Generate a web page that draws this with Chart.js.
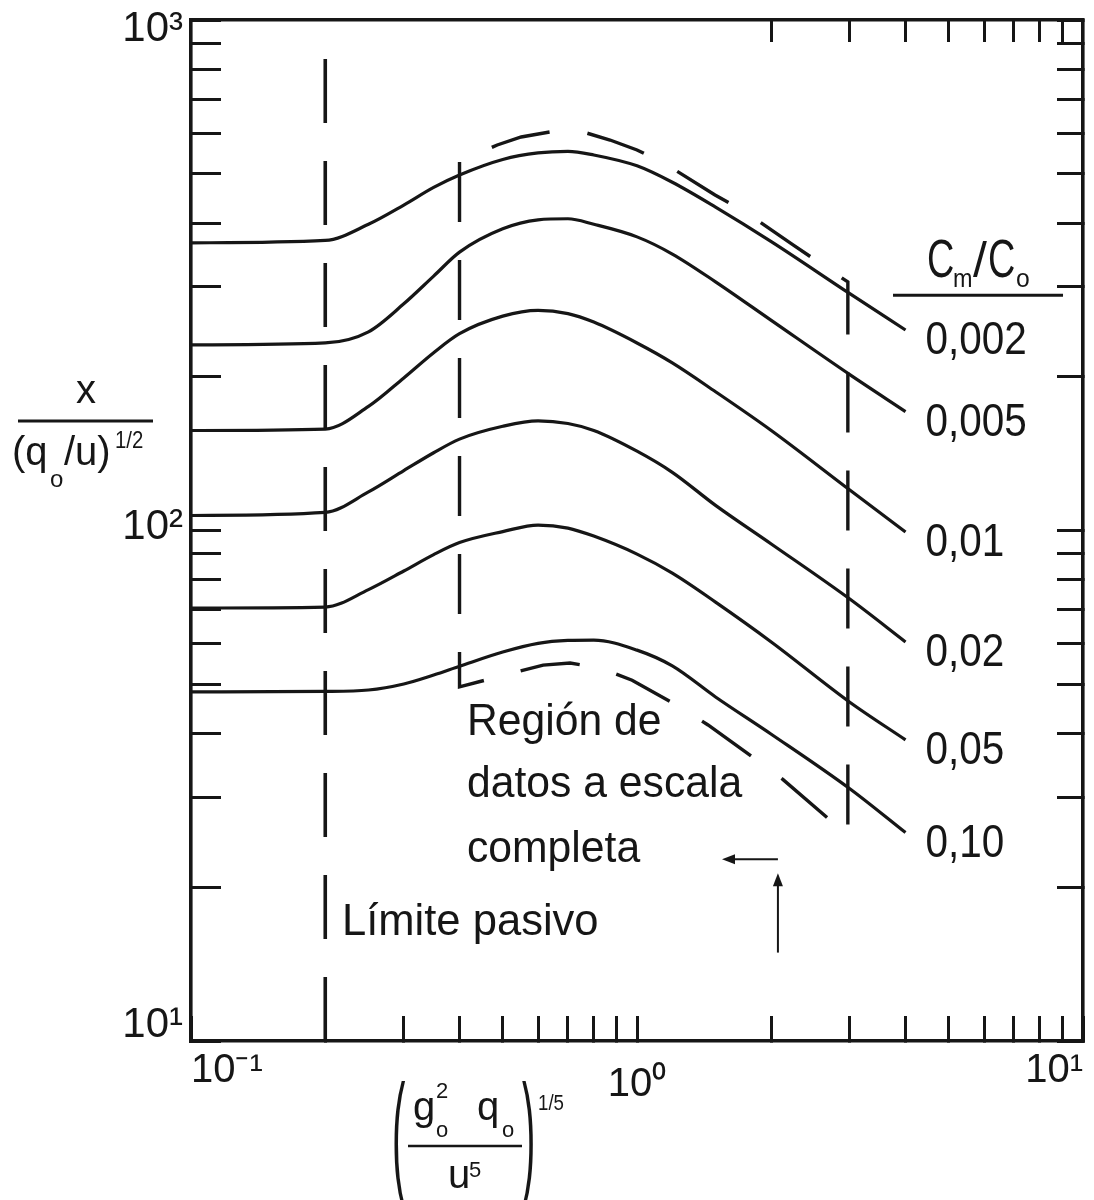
<!DOCTYPE html>
<html><head><meta charset="utf-8">
<script src="https://cdn.jsdelivr.net/npm/chart.js@4.4.0/dist/chart.umd.min.js"></script>
<style>html,body{margin:0;padding:0;background:#fff}#wrap{width:1094px;height:1200px}</style>
</head><body><div id="wrap"><canvas id="c" width="1094" height="1200"></canvas></div>
<script>
// ---- data ----
const xSamples = [0.1, 0.2, 0.25, 0.3, 0.35, 0.4, 0.5, 0.6, 0.7, 0.8, 1.0, 1.2, 1.5, 2.0, 3.0, 4.0];
const seriesLabels = ['0,002', '0,005', '0,01', '0,02', '0,05', '0,10'];
const s0002 = [366, 370, 398, 434, 470, 497, 533, 549, 553, 544, 518, 481, 430, 368, 291, 247];
const s0005 = [231, 233, 245, 278, 315, 351, 390, 406, 408, 398, 376, 348, 307, 258, 202, 171];
const s001  = [157, 158, 175, 199, 223, 243, 263, 270, 266, 256, 233, 213, 187, 157, 120, 99.3];
const s002  = [107, 108.5, 119, 131, 142, 151, 160, 164, 162, 157, 143, 130, 112, 94.1, 73.4, 60.5];
const s005  = [70.5, 70.8, 76.6, 83.3, 89.7, 94.7, 99.5, 102.5, 101.1, 97.5, 89.9, 82.5, 72.4, 60.5, 46.1, 38.9];
const s010  = [48.3, 48.4, 48.7, 50.05, 52.1, 54.2, 57.8, 60.1, 60.9, 61.0, 58.3, 54.3, 47.2, 39.9, 31.2, 25.6];
const seriesValues = [s0002, s0005, s001, s002, s005, s010];

// "Límite pasivo" line
const pasivoX = [0.2, 0.2];
const pasivoY = [10, 846];
// "Región de datos a escala completa" boundary
const regionX = [0.4, 0.4, 0.527, 0.616, 0.708, 0.826, 0.975, 1.249, 1.443, 1.858, 2.126, 2.708, 2.97, 2.97, 2.238, 1.764, 1.496, 1.168, 1.0, 0.87, 0.757, 0.638, 0.55, 0.486, 0.4];
const regionY = [527, 49.4, 52.6, 54.5, 55.0, 53.8, 50.9, 45.1, 41.6, 35.5, 32.5, 27.1, 25.3, 306.8, 362.6, 418.8, 454.2, 520, 556.5, 582, 603.5, 603.5, 590, 569.1, 527];

// ticks
const xTicksBottom = [0.1,0.2,0.3,0.4,0.5,0.6,0.7,0.8,0.9,1,2,3,4,5,6,7,8,9,10];
const xTicksTop = [2,3,4,5,6,7,8,9];
const yTicksAll = [10,20,30,40,50,60,70,80,90,100,200,300,400,500,600,700,800,900,1000];
const xDecades = [0.1, 1, 10];
const xDecadeLabels = [['10\u207B\u00B9'], ['', '10\u2070'], ['10\u00B9']];
const yDecades = [10, 100, 1000];
const yDecadeLabels = [['10\u00B9', ''], ['10\u00B2'], ['', '10\u00B3']];

// annotation anchors (data coordinates)
const headerAt = {x: 4.47, y: 313.7};
const headerRule = {x1: 3.75, x2: 9.02, y: 289};
const regionText = ['Regi\u00F3n de', 'datos a escala', 'completa'];
const regionTextX = 0.4157;
const regionTextY = [39.8, 30.1, 22.4];
const pasivoText = 'L\u00EDmite pasivo';
const pasivoTextAt = {x: 0.218, y: 16.1};
const arrowH = {x1: 2.07, x2: 1.551, y: 22.7};
const arrowV = {x: 2.07, y1: 14.9, y2: 21.3};

// ---- styling ----
const INK = '#161616';
const FONT = '"Liberation Sans", Arial, Helvetica, sans-serif';

function decadeLabel(v, decs, labs) {
  const i = decs.findIndex(d => Math.abs(Math.log10(d) - Math.log10(v)) < 1e-6);
  return i >= 0 ? labs[i] : '';
}

const datasets = seriesValues.map((vals, i) => ({
  label: seriesLabels[i],
  data: xSamples.map((x, k) => ({x, y: vals[k]})),
  borderColor: INK, borderWidth: 3.2, pointRadius: 0,
  cubicInterpolationMode: 'monotone', fill: false
}));
datasets.push({
  label: 'pasivo',
  data: pasivoX.map((x, k) => ({x, y: pasivoY[k]})),
  borderColor: INK, borderWidth: 3.6, pointRadius: 0, borderDash: [64, 38], tension: 0
});
datasets.push({
  label: 'region',
  data: regionX.map((x, k) => ({x, y: regionY[k]})),
  borderColor: INK, borderWidth: 3.4, pointRadius: 0, borderDash: [60, 38], tension: 0
});

const gridBase = (len) => ({display: true, drawOnChartArea: false, drawTicks: true, tickLength: len, tickWidth: 3, tickColor: INK, color: INK});
const borderBase = {display: true, width: 3.6, color: INK};
function fixSize(prop, val) {
  return s => { s[prop] = val; s.paddingTop = 0; s.paddingBottom = 0; s.paddingLeft = 0; s.paddingRight = 0; };
}

const annot = {
  id: 'annot',
  afterDatasetsDraw(chart) {
    const {ctx, chartArea: a, scales} = chart;
    const X = v => scales.x.getPixelForValue(v), Y = v => scales.y.getPixelForValue(v);
    ctx.save();
    ctx.fillStyle = INK; ctx.strokeStyle = INK;
    function txt(s, px, py, size, sx = 1, align = 'left') {
      ctx.save();
      ctx.font = size + 'px ' + FONT;
      ctx.textAlign = align; ctx.textBaseline = 'alphabetic';
      ctx.translate(px, py); ctx.scale(sx, 1);
      ctx.fillText(s, 0, 0);
      ctx.restore();
    }
    function line(x1, y1, x2, y2, w) {
      ctx.beginPath(); ctx.lineWidth = w; ctx.moveTo(x1, y1); ctx.lineTo(x2, y2); ctx.stroke();
    }
    // curve labels at the end of each curve
    for (let i = 0; i < seriesLabels.length; i++) {
      const pts = chart.getDatasetMeta(i).data;
      const p = pts[pts.length - 1];
      txt(seriesLabels[i], p.x + 20, p.y + 24, 46, 0.88);
    }
    // header C_m/C_o
    let hx = X(headerAt.x), hy = Y(headerAt.y);
    txt('C', hx, hy, 54, 0.7);
    txt('m', hx + 26, hy + 10, 26, 0.9);
    txt('/', hx + 46, hy, 50, 1);
    txt('C', hx + 61, hy, 54, 0.7);
    txt('o', hx + 89, hy + 10, 26, 0.95);
    line(X(headerRule.x1), Y(headerRule.y), X(headerRule.x2), Y(headerRule.y), 3);
    // region text
    regionText.forEach((s, i) => txt(s, X(regionTextX), Y(regionTextY[i]), 44, 0.97));
    txt(pasivoText, X(pasivoTextAt.x), Y(pasivoTextAt.y), 44, 0.99);
    // arrows
    const ahx1 = X(arrowH.x1), ahx2 = X(arrowH.x2), ahy = Y(arrowH.y);
    line(ahx1, ahy, ahx2 + 4, ahy, 2);
    ctx.beginPath(); ctx.moveTo(ahx2, ahy); ctx.lineTo(ahx2 + 13, ahy - 5); ctx.lineTo(ahx2 + 13, ahy + 5); ctx.closePath(); ctx.fill();
    const avx = X(arrowV.x), avy1 = Y(arrowV.y1), avy2 = Y(arrowV.y2);
    line(avx, avy1, avx, avy2 + 4, 2);
    ctx.beginPath(); ctx.moveTo(avx, avy2); ctx.lineTo(avx - 5, avy2 + 13); ctx.lineTo(avx + 5, avy2 + 13); ctx.closePath(); ctx.fill();

    // y-axis title: x / (q_o/u)^(1/2)
    const L = a.left, T = a.top;
    txt('x', L - 105, T + 383, 40, 1, 'center');
    line(L - 173, T + 401, L - 38, T + 401, 3);
    txt('(q', L - 179, T + 445, 40);
    txt('o', L - 141, T + 467, 24);
    txt('/u)', L - 127, T + 445, 40);
    txt('1/2', L - 76, T + 428, 24, 0.85);

    // x-axis title: (g_o^2 q_o / u^5)^(1/5)
    const B = a.bottom;
    const px0 = L + 201;
    ctx.save(); ctx.font = '40px ' + FONT; ctx.textBaseline = 'alphabetic';
    ctx.translate(px0, B + 138); ctx.scale(1, 3.4); ctx.fillText('(', 0, 0); ctx.restore();
    ctx.save(); ctx.font = '40px ' + FONT; ctx.textBaseline = 'alphabetic';
    ctx.translate(px0 + 130, B + 138); ctx.scale(1, 3.4); ctx.fillText(')', 0, 0); ctx.restore();
    txt('g', px0 + 21, B + 79, 40);
    txt('2', px0 + 44, B + 57, 22);
    txt('o', px0 + 44, B + 96, 22);
    txt('q', px0 + 85, B + 79, 40);
    txt('o', px0 + 110, B + 96, 22);
    line(px0 + 16, B + 105, px0 + 130, B + 105, 2.6);
    txt('u', px0 + 56, B + 147, 40);
    txt('5', px0 + 77, B + 136, 22);
    txt('1/5', px0 + 146, B + 69, 22, 0.85);
    ctx.restore();
  }
};

new Chart(document.getElementById('c'), {
  type: 'line',
  data: {datasets},
  plugins: [annot],
  options: {
    responsive: false, animation: false, events: [],
    layout: {padding: 0},
    plugins: {legend: {display: false}, tooltip: {enabled: false}},
    scales: {
      x: {
        type: 'logarithmic', position: 'bottom', min: 0.1, max: 10,
        afterBuildTicks: s => { s.ticks = xTicksBottom.map(v => ({value: v})); },
        afterFit: fixSize('height', 159),
        grid: gridBase(-25), border: borderBase,
        ticks: {autoSkip: false, maxRotation: 0, minRotation: 0, padding: 48, align: 'inner',
          color: INK, font: {family: FONT, size: 40, lineHeight: 0.35},
          callback: v => decadeLabel(v, xDecades, xDecadeLabels)}
      },
      x2: {
        type: 'logarithmic', position: 'top', min: 0.1, max: 10,
        afterBuildTicks: s => { s.ticks = xTicksTop.map(v => ({value: v})); },
        afterFit: fixSize('height', 20),
        grid: gridBase(-22), border: borderBase,
        ticks: {autoSkip: false, maxRotation: 0, padding: 0, callback: () => ''}
      },
      y: {
        type: 'logarithmic', position: 'left', min: 10, max: 1000,
        afterBuildTicks: s => { s.ticks = yTicksAll.map(v => ({value: v})); },
        afterFit: fixSize('width', 191),
        grid: gridBase(-30), border: borderBase,
        ticks: {autoSkip: false, padding: 38, labelOffset: -3, color: INK,
          font: {family: FONT, size: 42, lineHeight: 0.6},
          callback: v => decadeLabel(v, yDecades, yDecadeLabels)}
      },
      y2: {
        type: 'logarithmic', position: 'right', min: 10, max: 1000,
        afterBuildTicks: s => { s.ticks = yTicksAll.map(v => ({value: v})); },
        afterFit: fixSize('width', 11),
        grid: gridBase(-26), border: borderBase,
        ticks: {autoSkip: false, padding: 0, callback: () => ''}
      }
    }
  }
});
</script>
</body></html>
